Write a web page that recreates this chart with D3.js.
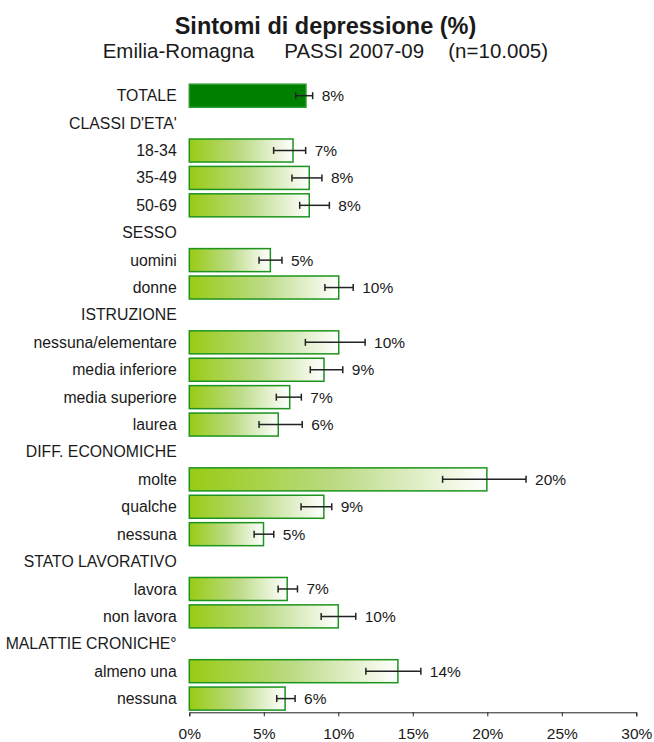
<!DOCTYPE html>
<html>
<head>
<meta charset="utf-8">
<script src="https://cdn.jsdelivr.net/npm/d3@7"></script>
<style>
  body { margin: 0; background: #fff; }
  svg text { font-family: "Liberation Sans", Arial, sans-serif; fill: #1a1a1a; }
</style>
</head>
<body>
<svg id="chart" width="654" height="742"></svg>
<script>
// rows of the chart (headers have no value)
const categories = ["TOTALE", "CLASSI D'ETA'", "18-34", "35-49", "50-69", "SESSO", "uomini", "donne",
  "ISTRUZIONE", "nessuna/elementare", "media inferiore", "media superiore", "laurea",
  "DIFF. ECONOMICHE", "molte", "qualche", "nessuna", "STATO LAVORATIVO", "lavora", "non lavora",
  "MALATTIE CRONICHE°", "almeno una", "nessuna"]
const values = [7.83, null, 6.96, 8.05, 8.05, null, 5.44, 10.03,
  null, 10.03, 9.04, 6.74, 5.97,
  null, 19.97, 9.03, 4.98, null, 6.57, 10.0,
  null, 14.0, 6.43]
const lower = [7.14, null, 5.66, 6.89, 7.41, null, 4.68, 9.1,
  null, 7.79, 8.12, 5.84, 4.68,
  null, 17.0, 7.5, 4.35, null, 5.96, 8.85,
  null, 11.85, 5.87]
const upper = [8.28, null, 7.81, 8.9, 9.4, null, 6.22, 11.0,
  null, 11.8, 10.3, 7.52, 7.58,
  null, 22.6, 9.56, 5.67, null, 7.26, 11.17,
  null, 15.54, 7.1]
const valueLabels = ["8%", "", "7%", "8%", "8%", "", "5%", "10%",
  "", "10%", "9%", "7%", "6%",
  "", "20%", "9%", "5%", "", "7%", "10%",
  "", "14%", "6%"]
const xTicks = [0, 5, 10, 15, 20, 25, 30]

const svg = d3.select('#chart')

// titles
svg.append('text')
  .attr('x', 325.5).attr('y', 34)
  .attr('text-anchor', 'middle')
  .style('font-size', '23.5px').style('font-weight', 'bold')
  .text('Sintomi di depressione (%)')

const sub = [['Emilia-Romagna', 102.7], ['PASSI 2007-09', 284.3], ['(n=10.005)', 448.3]]
svg.append('g').selectAll('text')
  .data(sub)
  .join('text')
  .attr('x', d => d[1]).attr('y', 57.5)
  .style('font-size', '20.5px')
  .text(d => d[0])

// scales
const x = d3.scaleLinear().domain([0, 30]).range([189.3, 636.3])
const y = d3.scaleBand()
  .domain(d3.range(categories.length))
  .range([82, 712.3])
  .paddingInner(0.16)
  .paddingOuter(0.08)

// gradient for the bars
const grad = svg.append('defs').append('linearGradient')
  .attr('id', 'barGrad')
  .attr('x1', '0%').attr('x2', '100%').attr('y1', '0%').attr('y2', '0%')
grad.append('stop').attr('offset', '0%').attr('stop-color', '#99cb14')
grad.append('stop').attr('offset', '50%').attr('stop-color', '#bcdb86')
grad.append('stop').attr('offset', '100%').attr('stop-color', '#ffffff')

// category labels
svg.append('g').selectAll('text')
  .data(categories)
  .join('text')
  .attr('x', 176.7)
  .attr('y', (d, i) => y(i) + y.bandwidth() / 2)
  .attr('dy', '0.35em')
  .attr('text-anchor', 'end')
  .style('font-size', '15.8px')
  .text(d => d)

const rows = d3.range(categories.length).filter(i => values[i] != null)

// bars
svg.append('g').selectAll('rect')
  .data(rows)
  .join('rect')
  .attr('x', x(0))
  .attr('y', i => y(i))
  .attr('width', i => x(values[i]) - x(0))
  .attr('height', y.bandwidth())
  .attr('fill', i => i === 0 ? '#008000' : 'url(#barGrad)')
  .attr('stroke', i => i === 0 ? '#2a9a2a' : '#1d941d')
  .attr('stroke-width', 1.5)

// error bars
const eb = svg.append('g').attr('stroke', '#222').attr('stroke-width', 1.5)
eb.selectAll('line.h')
  .data(rows)
  .join('line')
  .attr('class', 'h')
  .attr('x1', i => x(lower[i])).attr('x2', i => x(upper[i]))
  .attr('y1', i => y(i) + y.bandwidth() / 2).attr('y2', i => y(i) + y.bandwidth() / 2)
eb.selectAll('line.lo')
  .data(rows)
  .join('line')
  .attr('class', 'lo')
  .attr('x1', i => x(lower[i])).attr('x2', i => x(lower[i]))
  .attr('y1', i => y(i) + y.bandwidth() / 2 - 3.5).attr('y2', i => y(i) + y.bandwidth() / 2 + 3.5)
eb.selectAll('line.hi')
  .data(rows)
  .join('line')
  .attr('class', 'hi')
  .attr('x1', i => x(upper[i])).attr('x2', i => x(upper[i]))
  .attr('y1', i => y(i) + y.bandwidth() / 2 - 3.5).attr('y2', i => y(i) + y.bandwidth() / 2 + 3.5)

// value labels
svg.append('g').selectAll('text')
  .data(rows)
  .join('text')
  .attr('x', i => x(upper[i]) + 9)
  .attr('y', i => y(i) + y.bandwidth() / 2)
  .attr('dy', '0.35em')
  .style('font-size', '15.5px')
  .text(i => valueLabels[i])

// x axis
const axis = svg.append('g')
  .attr('transform', 'translate(0,712.3)')
  .call(d3.axisBottom(x).tickValues(xTicks).tickFormat(d => d + '%').tickSize(4).tickSizeOuter(4).tickPadding(12))
axis.selectAll('path, line').attr('stroke', '#222')
axis.selectAll('text').style('font-size', '15.5px').attr('fill', '#1a1a1a')
  .style('font-family', '"Liberation Sans", Arial, sans-serif')
</script>
</body>
</html>
